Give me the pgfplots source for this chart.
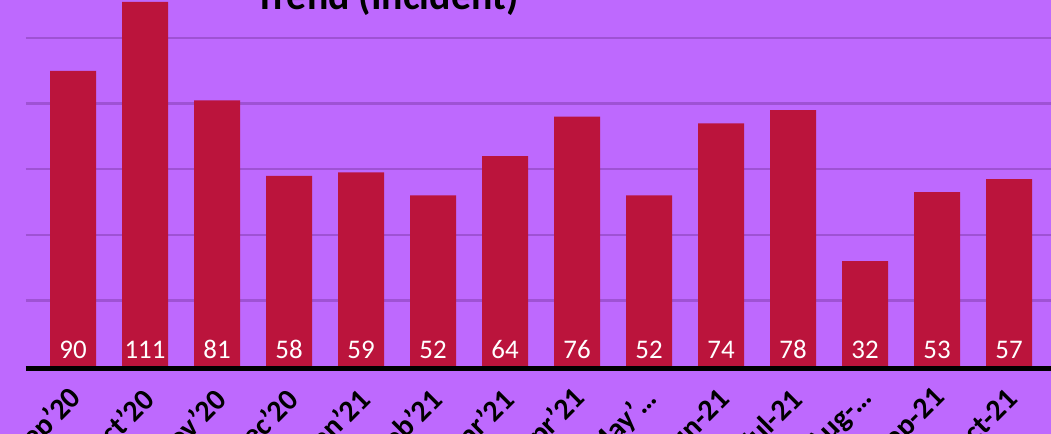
\documentclass[border=0pt]{standalone}
\usepackage{pgfplots}
\usepackage{pgfplotstable}
\pgfplotsset{compat=1.18}
\usepackage{fontspec}
\setmainfont{Carlito}
\definecolor{bgpurple}{HTML}{BE69FE}
\definecolor{barred}{HTML}{BB143C}
\definecolor{gridpurple}{HTML}{9F52D4}
\pgfplotstableread{
x y
0 90
1 111
2 81
3 58
4 59
5 52
6 64
7 76
8 52
9 74
10 78
11 32
12 53
13 57
}\datatable
\begin{document}
\begin{tikzpicture}
\fill[bgpurple] (-26bp,-65.5bp) rectangle (1025bp,368.5bp);
\begin{axis}[
  at={(0,0)}, anchor=south west, scale only axis,
  width=1030bp, height=396.1bp,
  xmin=-0.6528, xmax=13.6528, ymin=-0.76, ymax=120,
  axis line style={draw=none},
  /pgf/number format/assume math mode=true,
  xtick={0,...,13},
  xticklabels={Sep’20,Oct’20,Nov’20,Dec’20,Jan’21,Feb’21,Mar’21,Apr’21,May’…,Jun-21,Jul-21,Aug-…,Sep-21,Oct-21},
  xtick style={draw=none}, ytick style={draw=none},
  ytick={20,40,60,80,100}, yticklabels={},
  ymajorgrids, grid style={gridpurple, line width=2.5bp},
  xticklabel style={font=\bfseries\fontsize{30}{30}\selectfont, xshift=6bp, yshift=-23bp, rotate=45, anchor=east, text=black},
  clip=false,
]
\addplot[ybar, bar width=46bp, fill=barred, draw=none] table[x=x,y=y]{\datatable};
\addplot[draw=none, mark=none, nodes near coords, point meta=explicit,
  nodes near coords style={text=white, anchor=base, yshift=8bp, inner sep=0pt, font=\fontsize{27}{27}\selectfont}]
  table[x=x, y expr=0, meta=y]{\datatable};
\draw[black, line width=5bp] (axis cs:-0.6528,-0.76) -- (axis cs:13.6528,-0.76);
\end{axis}
\node[font=\bfseries\fontsize{40}{40}\selectfont, anchor=base] at (361bp,359bp) {Trend (Incident)};
\pgfresetboundingbox
\path[use as bounding box] (-26bp,-65.5bp) rectangle (1025bp,368.5bp);
\end{tikzpicture}
\end{document}
